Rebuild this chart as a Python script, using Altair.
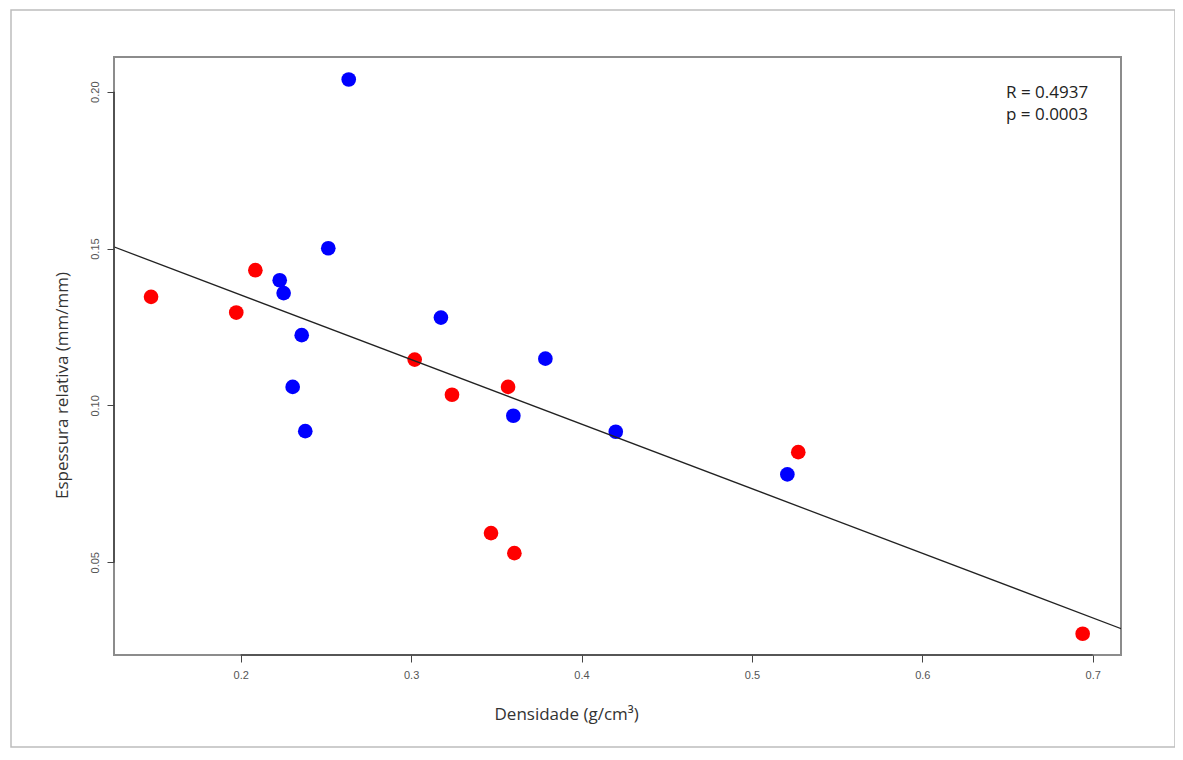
import altair as alt
import pandas as pd

# ---- data ----
red_x = [0.1474, 0.2086, 0.1974, 0.3021, 0.3240, 0.3569, 0.3469, 0.3606, 0.5272, 0.6941]
red_y = [0.1346, 0.1431, 0.1296, 0.1146, 0.1034, 0.1059, 0.0593, 0.0529, 0.0851, 0.0272]
blue_x = [0.2634, 0.2514, 0.2229, 0.2252, 0.2358, 0.2305, 0.2379, 0.3175, 0.3788, 0.3600, 0.4201, 0.5208]
blue_y = [0.2039, 0.1501, 0.1399, 0.1358, 0.1224, 0.1059, 0.0918, 0.1280, 0.1149, 0.0967, 0.0916, 0.0780]

x_ticks = [0.2, 0.3, 0.4, 0.5, 0.6, 0.7]
y_ticks = [0.05, 0.10, 0.15, 0.20]
x_domain = [0.12565, 0.7166]
y_domain = [0.02044, 0.21106]

fit_intercept = 0.1764
fit_slope = -0.2059

stats_lines = ["R = 0.4937", "p = 0.0003"]
x_title = "Densidade (g/cm³)"
y_title = "Espessura relativa (mm/mm)"

W, H = 1007, 598

# ---- tables ----
pts = pd.DataFrame({
    "x": red_x + blue_x,
    "y": red_y + blue_y,
    "grp": ["red"] * len(red_x) + ["blue"] * len(blue_x),
})
fit = pd.DataFrame({"x": [x_domain[0] - 0.01, x_domain[1] + 0.01]})
fit["y"] = fit_intercept + fit_slope * fit["x"]
xaxis_line = pd.DataFrame({"a": [min(x_ticks)], "b": [max(x_ticks)]})
yaxis_line = pd.DataFrame({"a": [min(y_ticks)], "b": [max(y_ticks)]})
one = pd.DataFrame({"k": [0]})

xs = alt.Scale(domain=x_domain, nice=False, zero=False)
ys = alt.Scale(domain=y_domain, nice=False, zero=False)

points = alt.Chart(pts).mark_circle(size=215, opacity=1).encode(
    x=alt.X("x:Q", scale=xs,
            axis=alt.Axis(values=x_ticks, format=".1f", title=x_title,
                          labelPadding=7, titleAnchor="start",
                          titleX=380, titleY=59, titleAlign="left",
                          titleBaseline="middle")),
    y=alt.Y("y:Q", scale=ys,
            axis=alt.Axis(values=y_ticks, format=".2f", title=y_title,
                          labelAngle=270, labelAlign="center",
                          labelBaseline="bottom", labelPadding=7,
                          titleX=-52, titleY=328, titleAlign="center",
                          titleBaseline="middle", titleAngle=270)),
    color=alt.Color("grp:N", legend=None,
                    scale=alt.Scale(domain=["red", "blue"], range=["#ff0000", "#0000ff"])),
)

line = alt.Chart(fit).mark_line(color="#222222", strokeWidth=1.3, clip=True).encode(
    x=alt.X("x:Q", scale=xs),
    y=alt.Y("y:Q", scale=ys),
)

x_rule = alt.Chart(xaxis_line).mark_rule(color="#444444", strokeWidth=1.6).encode(
    x=alt.X("a:Q", scale=xs), x2="b:Q", y=alt.value(H)
)
y_rule = alt.Chart(yaxis_line).mark_rule(color="#444444", strokeWidth=1.6).encode(
    y=alt.Y("a:Q", scale=ys), y2="b:Q", x=alt.value(0)
)

frame = alt.Chart(one).mark_rect(fillOpacity=0, stroke="#bdbdbd", strokeWidth=1.5, clip=False).encode(
    x=alt.value(-103), x2=alt.value(1061), y=alt.value(-47), y2=alt.value(690)
)

txt1 = alt.Chart(one).mark_text(align="left", baseline="middle", font="Open Sans",
                                fontSize=17, color="#222222", text=stats_lines[0]).encode(
    x=alt.value(892), y=alt.value(36)
)
txt2 = alt.Chart(one).mark_text(align="left", baseline="middle", font="Open Sans",
                                fontSize=17, color="#222222", text=stats_lines[1]).encode(
    x=alt.value(892), y=alt.value(58)
)

chart = alt.layer(frame, points, line, x_rule, y_rule, txt1, txt2).properties(
    width=W, height=H,
    autosize=alt.AutoSizeParams(type="none"),
    padding={"left": 106, "top": 49, "right": 54, "bottom": 93},
    background="white",
).configure_view(
    stroke="#8c8c8c", strokeWidth=2
).configure_axis(
    grid=False, domain=False, ticks=True, tickColor="#444444", tickSize=7, tickWidth=1,
    labelFont="Liberation Sans", labelFontSize=11, labelColor="#555555",
    titleFont="Open Sans", titleFontSize=17, titleColor="#333333", titleFontWeight="normal",
)

chart.save("out.html", embed_options={"renderer": "svg", "actions": False})
